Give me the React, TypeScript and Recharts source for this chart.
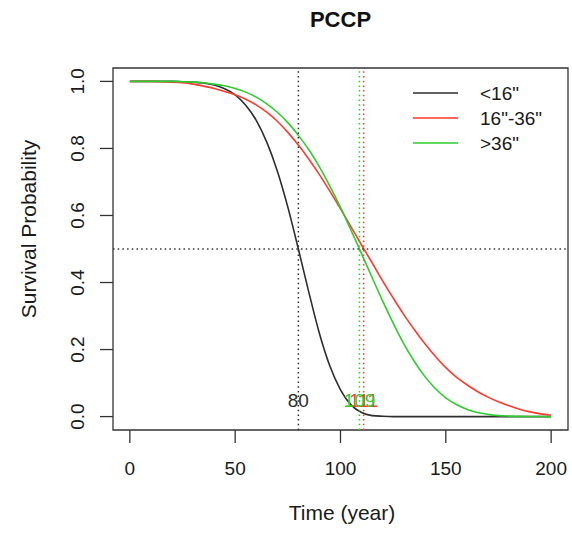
import React from 'react';
import {
  LineChart,
  Line,
  XAxis,
  YAxis,
  ReferenceLine,
  ReferenceArea,
  ReferenceDot,
  Legend,
} from 'recharts';

// ---- data ----
const years = [
  0, 5, 10, 15, 20, 25, 30, 35, 40, 45, 50, 55, 60, 65, 70, 75, 80, 85, 90, 95, 100,
  105, 110, 115, 120, 125, 130, 135, 140, 145, 150, 155, 160, 165, 170, 175, 180, 185, 190, 195, 200,
];

const survivalUnder16 = [
  1, 1, 1, 1, 1, 0.999, 0.998, 0.995, 0.989, 0.978, 0.96, 0.929, 0.884, 0.819, 0.733, 0.625, 0.5,
  0.37, 0.248, 0.15, 0.08, 0.035, 0.012, 0.003, 0.001, 0, 0, 0, 0, 0, 0, 0, 0, 0, 0, 0, 0, 0, 0, 0, 0,
];

const survival16to36 = [
  1, 1, 1, 0.999, 0.998, 0.996, 0.992, 0.986, 0.979, 0.97, 0.96, 0.947, 0.93, 0.908, 0.881, 0.848,
  0.81, 0.768, 0.722, 0.672, 0.62, 0.566, 0.512, 0.459, 0.405, 0.354, 0.305, 0.26, 0.218, 0.18,
  0.146, 0.118, 0.095, 0.075, 0.058, 0.044, 0.032, 0.022, 0.014, 0.008, 0.004,
];

const survivalOver36 = [
  1, 1, 1, 1, 1, 0.999, 0.998, 0.996, 0.992, 0.987, 0.979, 0.968, 0.953, 0.933, 0.908, 0.877, 0.839,
  0.796, 0.745, 0.687, 0.624, 0.556, 0.486, 0.415, 0.345, 0.279, 0.218, 0.165, 0.12, 0.084, 0.056,
  0.036, 0.022, 0.012, 0.0065, 0.003, 0.0015, 0.0006, 0.0002, 0.0001, 0,
];

const seriesNames = ['<16"', '16"-36"', '>36"'];
const seriesKeys = ['under16', 'mid', 'over36'];
const seriesColors = ['#2e2e2e', '#ff3a2e', '#2fcc2f'];
const medianYears = [80, 111, 109];
const medianLabelLevel = 0.047;
const halfSurvival = 0.5;

const xTicks = [0, 50, 100, 150, 200];
const yTicks = [0, 0.2, 0.4, 0.6, 0.8, 1.0];
const xDomain: [number, number] = [-8, 208];
const yDomain: [number, number] = [-0.04, 1.04];

const data = years.map((t, i) => ({
  t,
  under16: survivalUnder16[i],
  mid: survival16to36[i],
  over36: survivalOver36[i],
}));

const FONT = '"Liberation Sans", Arial, Helvetica, sans-serif';
const AXIS_COLOR = '#333';
const TEXT_COLOR = '#1a1a1a';

const XTick = (props: any) => {
  const { x, payload } = props;
  return (
    <text x={x} y={475} textAnchor="middle" fontSize={19} fontFamily={FONT} fill={TEXT_COLOR}>
      {String(payload.value)}
    </text>
  );
};

const YTick = (props: any) => {
  const { y, payload } = props;
  return (
    <text
      transform={`translate(84, ${y}) rotate(-90)`}
      x={0}
      y={0}
      textAnchor="middle"
      fontSize={19}
      fontFamily={FONT}
      fill={TEXT_COLOR}
    >
      {Number(payload.value).toFixed(1)}
    </text>
  );
};

const renderLegend = () => (
  <svg width={170} height={80} style={{ display: 'block' }}>
    {seriesNames.map((name, i) => (
      <g key={name}>
        <line
          x1={13}
          x2={58}
          y1={18 + i * 25}
          y2={18 + i * 25}
          stroke={seriesColors[i]}
          strokeWidth={1.6}
        />
        <text x={80} y={18 + i * 25 + 7} fontSize={19} fontFamily={FONT} fill={TEXT_COLOR}>
          {name}
        </text>
      </g>
    ))}
  </svg>
);

const medianLabel = (value: string, color: string) => (props: any) => {
  const vb = props.viewBox || {};
  const cx = (vb.x ?? 0) + (vb.width ?? 0) / 2;
  const cy = (vb.y ?? 0) + (vb.height ?? 0) / 2;
  return (
    <text x={cx} y={cy + 6.5} textAnchor="middle" fontSize={19} fontFamily={FONT} fill={color}>
      {value}
    </text>
  );
};

export default function App() {
  // draw order for median labels: black, red, green (green on top)
  const labelOrder = [0, 1, 2];
  return (
    <div style={{ position: 'absolute', left: 0, top: 0, width: 572, height: 533, background: '#fff' }}>
      <LineChart
        width={572}
        height={533}
        data={data}
        margin={{ top: 68, right: 4, bottom: 43, left: 13 }}
      >
        <XAxis
          dataKey="t"
          type="number"
          domain={xDomain}
          ticks={xTicks}
          interval={0}
          height={60}
          axisLine={false}
          tickLine={{ stroke: AXIS_COLOR, strokeWidth: 1.3 }}
          tickSize={13}
          tick={<XTick />}
          label={() => (
            <text x={342} y={520} textAnchor="middle" fontSize={21} fontFamily={FONT} fill={TEXT_COLOR}>
              Time (year)
            </text>
          )}
        />
        <YAxis
          type="number"
          domain={yDomain}
          ticks={yTicks}
          interval={0}
          width={100}
          axisLine={false}
          tickLine={{ stroke: AXIS_COLOR, strokeWidth: 1.3 }}
          tickSize={13}
          tick={<YTick />}
          label={() => (
            <text
              transform="translate(36, 229) rotate(-90)"
              x={0}
              y={0}
              textAnchor="middle"
              fontSize={21}
              fontFamily={FONT}
              fill={TEXT_COLOR}
            >
              Survival Probability
            </text>
          )}
        />
        <ReferenceArea
          x1={xDomain[0]}
          x2={xDomain[1]}
          y1={yDomain[0]}
          y2={yDomain[1]}
          fill="none"
          fillOpacity={0}
          stroke={AXIS_COLOR}
          strokeWidth={1.3}
          ifOverflow="visible"
          label={() => (
            <text x={340.5} y={27} textAnchor="middle" fontSize={22} fontWeight="bold" fontFamily={FONT} fill="#111">
              PCCP
            </text>
          )}
        />
        {seriesKeys.map((k, i) => (
          <Line
            key={k}
            type="monotone"
            dataKey={k}
            name={seriesNames[i]}
            stroke={seriesColors[i]}
            strokeWidth={1.6}
            dot={false}
            activeDot={false}
            isAnimationActive={false}
          />
        ))}
        <ReferenceLine
          y={halfSurvival}
          stroke={AXIS_COLOR}
          strokeWidth={1.5}
          strokeDasharray="1.5 3.2"
          ifOverflow="visible"
        />
        {labelOrder.map((i) => (
          <ReferenceLine
            key={`v-${i}`}
            x={medianYears[i]}
            stroke={seriesColors[i]}
            strokeWidth={1.5}
            strokeDasharray="1.5 3.2"
            ifOverflow="visible"
          />
        ))}
        {labelOrder.map((i) => (
          <ReferenceDot
            key={`d-${i}`}
            x={medianYears[i]}
            y={medianLabelLevel}
            r={0}
            fill="none"
            stroke="none"
            ifOverflow="visible"
            label={medianLabel(String(medianYears[i]), seriesColors[i])}
          />
        ))}
        <Legend
          layout="vertical"
          align="center"
          verticalAlign="middle"
          content={renderLegend}
          wrapperStyle={{ position: 'absolute', left: 400, top: 75, width: 170, height: 80 }}
        />
      </LineChart>
    </div>
  );
}
